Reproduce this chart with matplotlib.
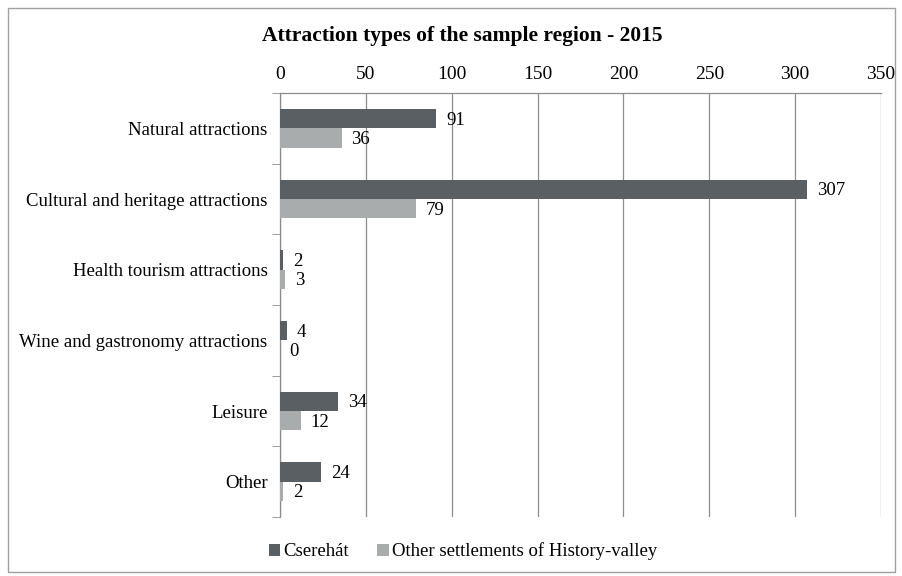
import numpy as np
import matplotlib.pyplot as plt
from matplotlib.patches import Rectangle

categories = ['Natural attractions', 'Cultural and heritage attractions',
              'Health tourism attractions', 'Wine and gastronomy attractions',
              'Leisure', 'Other']
cserehat = [91, 307, 2, 4, 34, 24]
other_settlements = [36, 79, 3, 0, 12, 2]
series_names = ['Cserehát', 'Other settlements of History-valley']

dark = '#595f62'
light = '#a9acad'
grid_c = '#8c8c8c'

plt.rcParams['font.family'] = ['Liberation Serif', 'DejaVu Serif']

fig = plt.figure(figsize=(9.03, 5.76), dpi=100)
fig.patches.append(Rectangle((0.009, 0.007), 0.982, 0.979, transform=fig.transFigure,
                             fill=False, edgecolor='#a0a0a0', linewidth=1.0))
ax = fig.add_axes([0.310, 0.1024, 0.6657, 0.7361])

y = np.arange(len(categories))
h = 0.275
b1 = ax.barh(y - h / 2, cserehat, height=h, color=dark, label=series_names[0], zorder=3)
b2 = ax.barh(y + h / 2, other_settlements, height=h, color=light, label=series_names[1], zorder=3)

for bars, vals in ((b1, cserehat), (b2, other_settlements)):
    for bar, v in zip(bars, vals):
        ax.annotate(str(v), (v, bar.get_y() + bar.get_height() / 2),
                    xytext=(7, -1), textcoords='offset points',
                    va='center', ha='left', fontsize=13.5)

ax.set_xlim(0, 350)
ax.set_ylim(len(categories) - 0.5, -0.5)
ax.set_xticks(range(0, 351, 50))
ax.xaxis.tick_top()
ax.tick_params(axis='x', length=0, labelsize=14, pad=7)
ax.set_yticks(y)
ax.set_yticklabels(categories, fontsize=13.5)
ax.tick_params(axis='y', which='major', length=0, pad=9)
ax.set_yticks(np.arange(-0.5, len(categories)), minor=True)
ax.tick_params(axis='y', which='minor', length=6, color=grid_c, direction='out')
ax.grid(axis='x', color=grid_c, linewidth=0.9, zorder=0)

for s in ('right', 'bottom'):
    ax.spines[s].set_visible(False)
for s in ('left', 'top'):
    ax.spines[s].set_color(grid_c)
    ax.spines[s].set_linewidth(0.9)

fig.text(0.512, 0.937, 'Attraction types of the sample region - 2015',
         ha='center', va='center', fontsize=15.5, fontweight='bold')

fig.legend(handles=[b1, b2], loc='center', bbox_to_anchor=(0.513, 0.043), ncol=2,
           frameon=False, fontsize=13.5, handlelength=0.6, handleheight=0.6,
           handletextpad=0.2, columnspacing=1.5)

fig.savefig('out.png', dpi=100)
